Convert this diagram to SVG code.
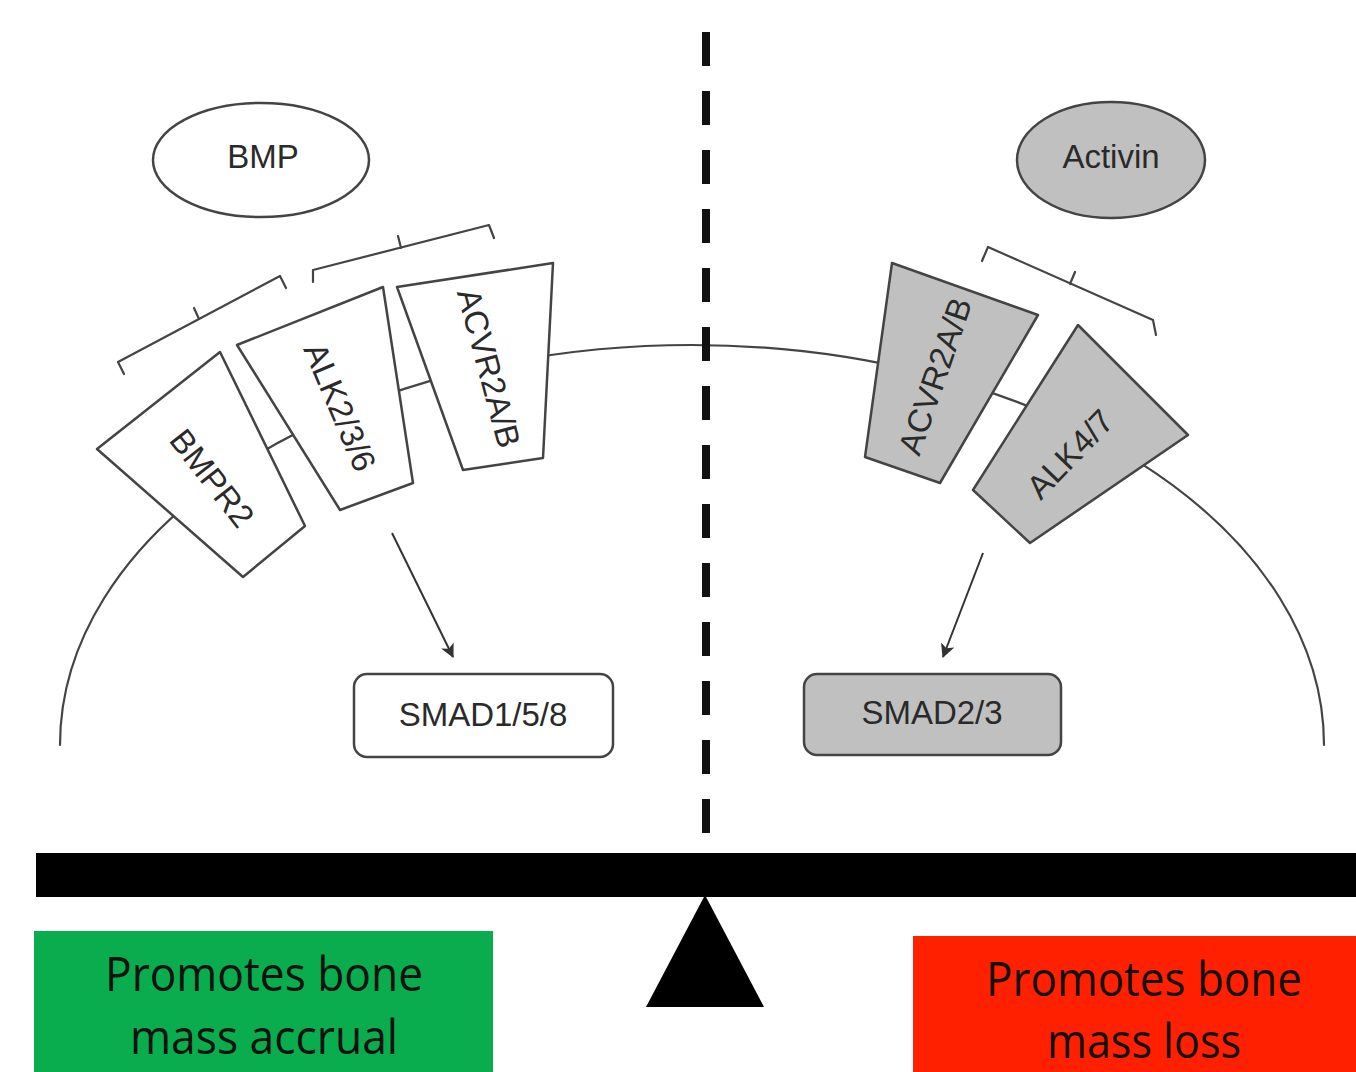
<svg xmlns="http://www.w3.org/2000/svg" width="1356" height="1072" viewBox="0 0 1356 1072">
<defs>
<style>
.lbl{font-family:"Liberation Sans",Arial,sans-serif;font-size:33px;fill:#2a2a2a;text-anchor:middle;dominant-baseline:central}
.rw{fill:#ffffff;stroke:#444;stroke-width:2.5;stroke-linejoin:round}
.rg{fill:#c0c0c0;stroke:#444;stroke-width:2.5;stroke-linejoin:round}
.ln{fill:none;stroke:#444;stroke-width:2.2;stroke-linecap:round;stroke-linejoin:round}
.big{font-family:"Open Sans","Liberation Sans",sans-serif;font-size:47px;fill:#111;text-anchor:middle}
</style>
<marker id="ah" viewBox="0 0 12 12" refX="11" refY="6" markerWidth="14" markerHeight="14" markerUnits="userSpaceOnUse" orient="auto">
<path d="M0,0 L12,6 L0,12 L3,6 z" fill="#333"/>
</marker>
</defs>
<rect width="1356" height="1072" fill="#ffffff"/>

<g id="membrane">
<path class="ln" d="M60,745 A632,400 0 0 1 1324,745"/>
</g>

<g id="bmp">
<ellipse cx="261" cy="160" rx="108" ry="57" class="rw"/>
<text class="lbl" x="263" y="156">BMP</text>
</g>
<g id="activin">
<ellipse cx="1111" cy="160" rx="94" ry="58" class="rg"/>
<text class="lbl" x="1111" y="156">Activin</text>
</g>

<g id="brackets">
<path class="ln" d="M124,374 L118,362 L280,276 L286,288 M199,319 L194,308"/>
<path class="ln" d="M313,282 L313,270 L489,225 L494,238 M401,248 L398,236"/>
<path class="ln" d="M982,261 L988,247 L1153,320 L1156,335 M1070,284 L1075,272"/>
</g>

<g id="bmpr2">
<polygon class="rw" points="97,449 220,352 305,526 243,577"/>
<text class="lbl" transform="translate(212,478) rotate(52)">BMPR2</text>
</g>
<g id="alk236">
<polygon class="rw" points="237,345 383,287 413,483 340,510"/>
<text class="lbl" transform="translate(340,407) rotate(67)">ALK2/3/6</text>
</g>
<g id="acvr2ab-left">
<polygon class="rw" points="397,287 553,263 543,458 463,470"/>
<text class="lbl" transform="translate(489,368) rotate(75)">ACVR2A/B</text>
</g>
<g id="acvr2ab-right">
<polygon class="rg" points="892,263 1038,315 940,483 865,457"/>
<text class="lbl" transform="translate(935,376) rotate(-71)">ACVR2A/B</text>
</g>
<g id="alk47">
<polygon class="rg" points="1078,325 1188,435 1030,543 973,490"/>
<text class="lbl" transform="translate(1070,454) rotate(-46)">ALK4/7</text>
</g>

<g id="connectors">
<line x1="392" y1="533" x2="453" y2="657" stroke="#333" stroke-width="2" marker-end="url(#ah)"/>
<line x1="983" y1="553" x2="943" y2="657" stroke="#333" stroke-width="2" marker-end="url(#ah)"/>
</g>

<g id="smad158">
<rect x="354" y="674" width="259" height="83" rx="13" class="rw"/>
<text class="lbl" x="483" y="714">SMAD1/5/8</text>
</g>
<g id="smad23">
<rect x="804" y="674" width="257" height="81" rx="13" class="rg"/>
<text class="lbl" x="932" y="712">SMAD2/3</text>
</g>

<g id="divider">
<line x1="706" y1="32" x2="706" y2="834" stroke="#111" stroke-width="8" stroke-dasharray="34 25"/>
</g>

<g id="balance">
<rect x="36" y="853" width="1320" height="44" fill="#000"/>
<polygon points="705,895 646,1007 764,1007" fill="#000"/>
</g>

<g id="accrual">
<rect x="34" y="931" width="459" height="141" fill="#0aad4e"/>
<text class="big" x="264" y="991" textLength="318" lengthAdjust="spacingAndGlyphs">Promotes bone</text>
<text class="big" x="264" y="1054" textLength="268" lengthAdjust="spacingAndGlyphs">mass accrual</text>
</g>
<g id="loss">
<rect x="913" y="936" width="443" height="136" fill="#ff2000"/>
<text class="big" x="1144" y="996" textLength="316" lengthAdjust="spacingAndGlyphs">Promotes bone</text>
<text class="big" x="1144" y="1058" textLength="194" lengthAdjust="spacingAndGlyphs">mass loss</text>
</g>
</svg>
